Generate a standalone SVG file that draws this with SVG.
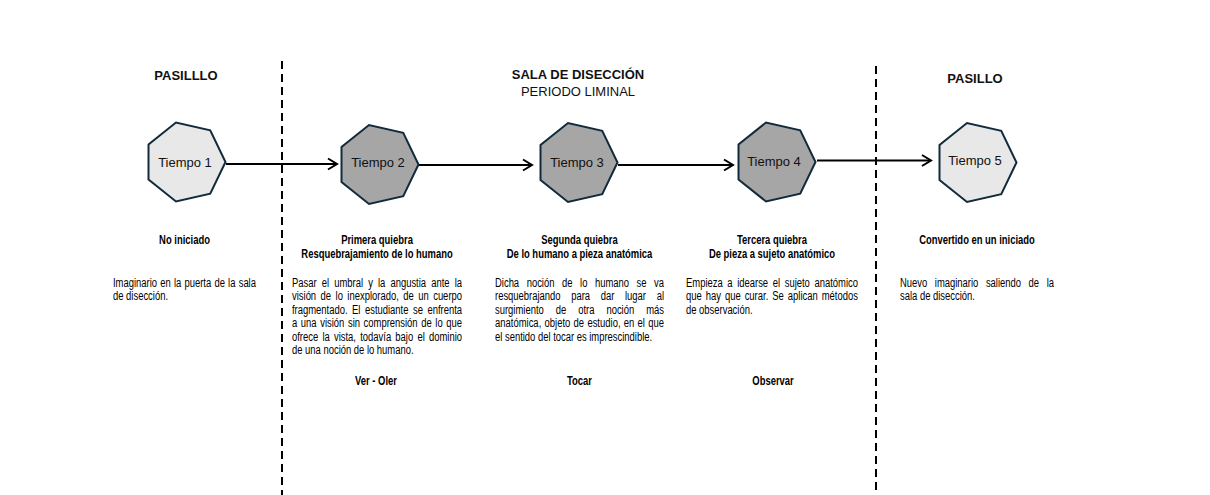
<svg xmlns="http://www.w3.org/2000/svg" width="1210" height="495" viewBox="0 0 1210 495">
<style>
.hdr{font-family:"Liberation Sans",Arial,sans-serif;font-size:13px;fill:#111;text-anchor:middle}
.b{font-weight:bold}
.hep{stroke:#112b3c;stroke-width:2;stroke-linejoin:miter}
.light{fill:#e8e8e8}
.dark{fill:#a6a6a6}
.lbl{font-family:"Liberation Sans",Arial,sans-serif;font-size:13px;fill:#111;text-anchor:middle}
.sep{stroke:#000;stroke-width:2;stroke-dasharray:8 5;fill:none}
.conn{stroke:#000;stroke-width:2;fill:none}
.hd{font-family:"Liberation Sans",Arial,sans-serif;font-size:12px;font-weight:bold;fill:#000;text-anchor:middle}
.tx{font-family:"Liberation Sans",Arial,sans-serif;font-size:12px;fill:#000}
</style>
<defs>
<marker id="arr" viewBox="-10 -7 12 14" refX="0" refY="0" markerWidth="12" markerHeight="14" markerUnits="userSpaceOnUse" orient="auto">
<path d="M-9,-5.5 L0,0 L-9,5.5" fill="none" stroke="#000" stroke-width="2"/>
</marker>
<polygon id="hepta" points="40.5,0 25.25,31.66 -9.01,39.48 -36.49,17.57 -36.49,-17.57 -9.01,-39.48 25.25,-31.66"/>
</defs>
<rect width="1210" height="495" fill="#fff"/>

<g id="separators">
<line class="sep" x1="282" y1="61" x2="282" y2="495"/>
<line class="sep" x1="876" y1="66" x2="876" y2="495"/>
</g>

<g id="zone-headers">
<text class="hdr b" x="186" y="80">PASILLLO</text>
<text class="hdr b" x="578" y="79">SALA DE DISECCIÓN</text>
<text class="hdr" x="578" y="96">PERIODO LIMINAL</text>
<text class="hdr b" x="975" y="83">PASILLO</text>
</g>

<g id="connectors">
<line class="conn" x1="226" y1="164" x2="337" y2="164" marker-end="url(#arr)"/>
<line class="conn" x1="419" y1="165" x2="532" y2="165" marker-end="url(#arr)"/>
<line class="conn" x1="618" y1="165" x2="733" y2="165" marker-end="url(#arr)"/>
<line class="conn" x1="817" y1="160.5" x2="931" y2="160.5" marker-end="url(#arr)"/>
</g>

<g id="node-tiempo1">
<use href="#hepta" class="hep light" transform="translate(185,162)"/>
<text class="lbl" x="185" y="167">Tiempo 1</text>
</g>
<g id="node-tiempo2">
<use href="#hepta" class="hep dark" transform="translate(378,164.5)"/>
<text class="lbl" x="378" y="167">Tiempo 2</text>
</g>
<g id="node-tiempo3">
<use href="#hepta" class="hep dark" transform="translate(577,162.5)"/>
<text class="lbl" x="577" y="167">Tiempo 3</text>
</g>
<g id="node-tiempo4">
<use href="#hepta" class="hep dark" transform="translate(775,162)"/>
<text class="lbl" x="774" y="166">Tiempo 4</text>
</g>
<g id="node-tiempo5">
<use href="#hepta" class="hep light" transform="translate(976,162.5)"/>
<text class="lbl" x="975" y="165">Tiempo 5</text>
</g>

<g id="desc-tiempo1">
<text class="hd" transform="translate(184.5,243.5) scale(0.786,1)">No iniciado</text>
<g transform="translate(113,0) scale(0.786,1)">
<text class="tx" x="0" y="287" word-spacing="0.75" textLength="181.9">Imaginario en la puerta de la sala</text>
<text class="tx" x="0" y="300.5">de disección.</text>
</g>
</g>

<g id="desc-tiempo2">
<text class="hd" transform="translate(377,243.5) scale(0.786,1)">Primera quiebra</text>
<text class="hd" transform="translate(377,257.5) scale(0.786,1)">Resquebrajamiento de lo humano</text>
<g transform="translate(292,0) scale(0.786,1)">
<text class="tx" x="0" y="287" word-spacing="3.1" textLength="216.3">Pasar el umbral y la angustia ante la</text>
<text class="tx" x="0" y="300.5" word-spacing="2.35" textLength="216.3">visión de lo inexplorado, de un cuerpo</text>
<text class="tx" x="0" y="314" word-spacing="2.38" textLength="216.3">fragmentado. El estudiante se enfrenta</text>
<text class="tx" x="0" y="327.5" word-spacing="1.26" textLength="216.3">a una visión sin comprensión de lo que</text>
<text class="tx" x="0" y="341" word-spacing="2.03" textLength="216.3">ofrece la vista, todavía bajo el dominio</text>
<text class="tx" x="0" y="354.5">de una noción de lo humano.</text>
</g>
<text class="hd" transform="translate(376,385) scale(0.786,1)">Ver - Oler</text>
</g>

<g id="desc-tiempo3">
<text class="hd" transform="translate(579.5,243.5) scale(0.786,1)">Segunda quiebra</text>
<text class="hd" transform="translate(579.5,257.5) scale(0.786,1)">De lo humano a pieza anatómica</text>
<g transform="translate(495,0) scale(0.786,1)">
<text class="tx" x="0" y="287" word-spacing="6.25" textLength="215">Dicha noción de lo humano se va</text>
<text class="tx" x="0" y="300.5" word-spacing="10.2" textLength="215">resquebrajando para dar lugar al</text>
<text class="tx" x="0" y="314" word-spacing="11.9" textLength="215">surgimiento de otra noción más</text>
<text class="tx" x="0" y="327.5" word-spacing="0.8" textLength="215">anatómica, objeto de estudio, en el que</text>
<text class="tx" x="0" y="341">el sentido del tocar es imprescindible.</text>
</g>
<text class="hd" transform="translate(579.5,385) scale(0.786,1)">Tocar</text>
</g>

<g id="desc-tiempo4">
<text class="hd" transform="translate(772,243.5) scale(0.786,1)">Tercera quiebra</text>
<text class="hd" transform="translate(772,257.5) scale(0.786,1)">De pieza a sujeto anatómico</text>
<g transform="translate(686,0) scale(0.786,1)">
<text class="tx" x="0" y="287" word-spacing="2.57" textLength="218.8">Empieza a idearse el sujeto anatómico</text>
<text class="tx" x="0" y="300.5" word-spacing="1.67" textLength="218.8">que hay que curar. Se aplican métodos</text>
<text class="tx" x="0" y="314">de observación.</text>
</g>
<text class="hd" transform="translate(773,385) scale(0.786,1)">Observar</text>
</g>

<g id="desc-tiempo5">
<text class="hd" transform="translate(977,243.5) scale(0.786,1)">Convertido en un iniciado</text>
<g transform="translate(900,0) scale(0.786,1)">
<text class="tx" x="0" y="287" word-spacing="6.3" textLength="195.9">Nuevo imaginario saliendo de la</text>
<text class="tx" x="0" y="300.5">sala de disección.</text>
</g>
</g>
</svg>
